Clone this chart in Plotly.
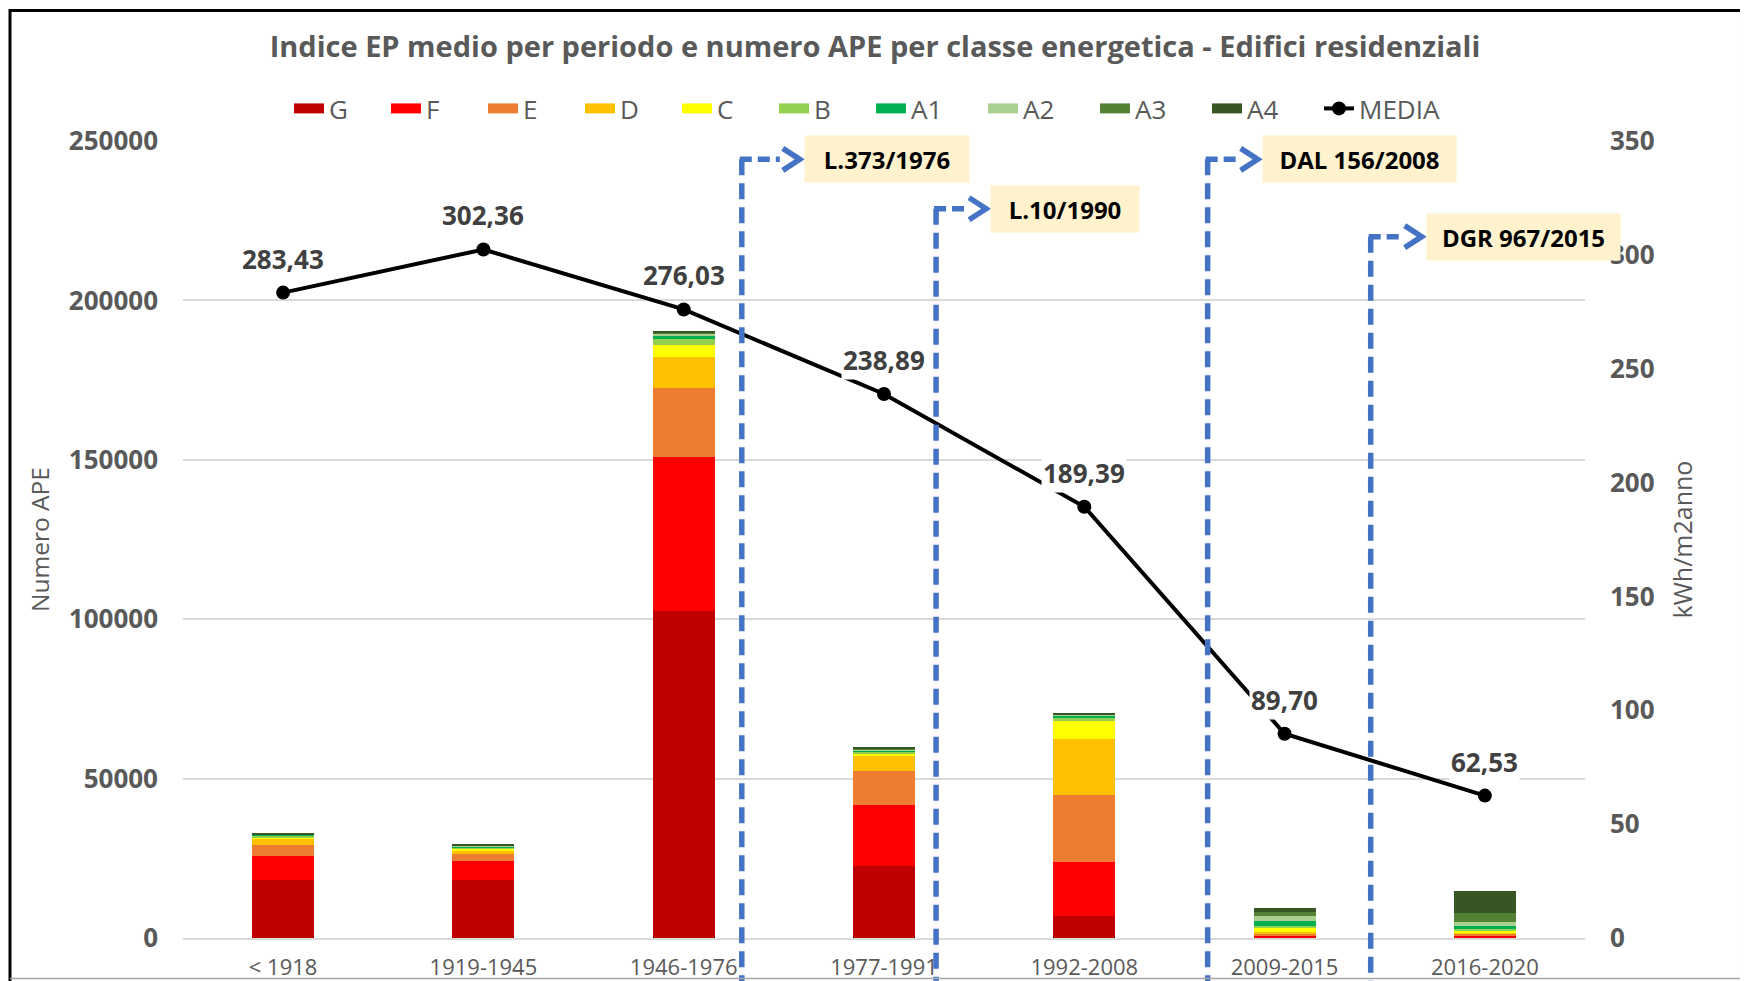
import plotly.graph_objects as go

# ---------------- data ----------------
categories = ["< 1918", "1919-1945", "1946-1976", "1977-1991", "1992-2008", "2009-2015", "2016-2020"]
class_names = ["G", "F", "E", "D", "C", "B", "A1", "A2", "A3", "A4"]
G = [18300, 18300, 102500, 22500, 7000, 200, 300]
F = [7500, 6000, 48500, 19100, 16900, 500, 500]
E = [3400, 2200, 21500, 10700, 21000, 600, 500]
D = [1900, 950, 9800, 4700, 17400, 700, 500]
C = [500, 600, 3800, 950, 5700, 1100, 500]
B = [450, 450, 1800, 600, 1000, 800, 500]
A1 = [300, 300, 1100, 300, 800, 1500, 1000]
A2 = [150, 150, 500, 300, 250, 1600, 1350]
A3 = [100, 150, 500, 300, 200, 1250, 2600]
A4 = [100, 100, 300, 200, 150, 1150, 7000]
media = [283.43, 302.36, 276.03, 238.89, 189.39, 89.70, 62.53]

laws = ["L.373/1976", "L.10/1990", "DAL 156/2008", "DGR 967/2015"]
law_x = [2.29, 3.26, 4.616, 5.43]          # position on category axis
law_top = [0.977, 0.915, 0.977, 0.880]     # top of the marker line (paper)

# ---------------- style ----------------
colors = ["#C00000", "#FF0000", "#ED7D31", "#FFC000", "#FFFF00",
          "#92D050", "#00B050", "#A9D08E", "#548235", "#375623"]
series = [G, F, E, D, C, B, A1, A2, A3, A4]
legend_w = [52, 52, 52, 52, 52, 52, 67, 67, 67, 67]
GRAY = "#595959"
FONT = "Open Sans"
BLUE = "#4472C4"

OFF = 8                      # page body margin of the html page
W, H = 1748 - OFF, 981 - OFF
# plot area in screenshot pixels
L, R = 183 - OFF, 1585 - OFF
T, BOT = 140.5 - OFF, 937.6 - OFF
PW, PH = R - L, BOT - T

def px2paper_x(px):
    return (px - OFF - L) / PW

def px2paper_y(py):
    return (BOT - (py - OFF)) / PH

fig = go.Figure()

for name, vals, col, lw in zip(class_names, series, colors, legend_w):
    fig.add_trace(go.Bar(
        x=categories, y=vals, name=name, marker_color=col,
        marker_line_width=0, width=0.31, showlegend=False,
        legendgroup=name, yaxis="y"))
    # legend entry with wide rectangular swatch
    fig.add_trace(go.Scatter(
        x=[None], y=[None], mode="lines", name=name, legendgroup=name,
        legendwidth=lw, line=dict(color=col, width=16), yaxis="y"))

fig.add_trace(go.Scatter(
    x=categories, y=media, name="MEDIA", mode="lines+markers",
    line=dict(color="black", width=4), marker=dict(color="black", size=14),
    legendwidth=100, yaxis="y2"))

# data labels for MEDIA
for c, v in zip(categories, media):
    fig.add_annotation(
        x=c, y=v, xref="x", yref="y2", text="<b>%s</b>" % ("%.2f" % v).replace(".", ","),
        showarrow=False, yshift=34, bgcolor="white", borderpad=1,
        font=dict(family=FONT, size=26, color="#404040"))

box_off = [62, 54, 54, 55]
box_w = [164, 148, 193, 193]
shapes = []
for name, xv, top, off, bw in zip(laws, law_x, law_top, box_off, box_w):
    dash = "16px,8px"
    # vertical dashed line down to the bottom edge of the image
    shapes.append(dict(type="line", xref="x", yref="paper", x0=xv, x1=xv,
                       y0=top, y1=-0.1, line=dict(color=BLUE, width=5.5, dash=dash)))
    # horizontal dashed part
    shapes.append(dict(type="line", xref="x", yref="paper", xsizemode="pixel",
                       ysizemode="pixel", xanchor=xv, yanchor=top,
                       x0=-2, x1=off - 24, y0=0, y1=0,
                       line=dict(color=BLUE, width=5.5, dash="12px,6px")))
    # open arrow head
    tip = off - 4
    shapes.append(dict(type="path", xref="x", yref="paper", xsizemode="pixel",
                       ysizemode="pixel", xanchor=xv, yanchor=top,
                       path="M %d,11 L %d,0 L %d,-11" % (tip - 17, tip, tip - 17),
                       line=dict(color=BLUE, width=5.5)))
    fig.add_annotation(
        x=xv, y=top, xref="x", yref="paper", xanchor="left", yanchor="middle",
        xshift=off, text="<b>%s</b>" % name, showarrow=False,
        width=bw, height=46, bgcolor="#FFF2CC", borderpad=0, align="center",
        font=dict(family=FONT, size=24, color="black"))

# outer frame (screenshot pixel positions)
shapes.append(dict(type="path", xref="paper", yref="paper",
                   path="M %f,%f L %f,%f L %f,%f L %f,%f" % (
                       px2paper_x(10), px2paper_y(990), px2paper_x(10), px2paper_y(10),
                       px2paper_x(1741.5), px2paper_y(10), px2paper_x(1741.5), px2paper_y(990)),
                   line=dict(color="black", width=3)))
shapes.append(dict(type="line", xref="paper", yref="paper",
                   x0=px2paper_x(1746), x1=px2paper_x(1746),
                   y0=px2paper_y(9), y1=px2paper_y(990),
                   line=dict(color="#C0504D", width=1.5)))
shapes.append(dict(type="line", xref="paper", yref="paper",
                   x0=px2paper_x(10), x1=px2paper_x(1741.5),
                   y0=px2paper_y(978), y1=px2paper_y(978),
                   line=dict(color="#A6A6A6", width=1.5)))

fig.update_layout(
    width=W, height=H, barmode="stack",
    plot_bgcolor="white", paper_bgcolor="white",
    margin=dict(l=L, r=W - R, t=T, b=H - BOT, autoexpand=False),
    font=dict(family=FONT, color=GRAY),
    title=dict(text="<b>Indice EP medio per periodo e numero APE per classe energetica - Edifici residenziali</b>",
               x=(875 - OFF) / W, xanchor="center",
               y=1 - (47 - OFF) / H, yanchor="middle", font=dict(family=FONT, size=29, color=GRAY)),
    legend=dict(orientation="h", x=px2paper_x(289), xanchor="left",
                y=px2paper_y(108), yanchor="middle", font=dict(family=FONT, size=26, color=GRAY),
                traceorder="normal", itemclick=False, itemdoubleclick=False),
    xaxis=dict(range=[-0.5, 6.5], showgrid=False, showline=True, linecolor="#D9D9D9",
               linewidth=1.5, ticks="", ticklabelstandoff=9,
               tickfont=dict(family=FONT, size=22, color=GRAY)),
    yaxis=dict(range=[0, 250000], dtick=50000, tickformat="d", showgrid=True,
               gridcolor="#D9D9D9", gridwidth=1.5, zeroline=False, showline=False,
               ticklabelstandoff=24,
               tickfont=dict(family=FONT, size=26, color=GRAY, weight="bold"),
               title=dict(text="Numero APE", standoff=12,
                          font=dict(family=FONT, size=24.5, color=GRAY))),
    yaxis2=dict(range=[0, 350], dtick=50, overlaying="y", side="right",
                showgrid=False, zeroline=False, showline=False, ticklabelstandoff=24,
                tickfont=dict(family=FONT, size=26, color=GRAY, weight="bold"),
                title=dict(text="kWh/m2anno", standoff=20,
                           font=dict(family=FONT, size=25, color=GRAY))),
    shapes=shapes,
)

fig.write_html("out.html")
